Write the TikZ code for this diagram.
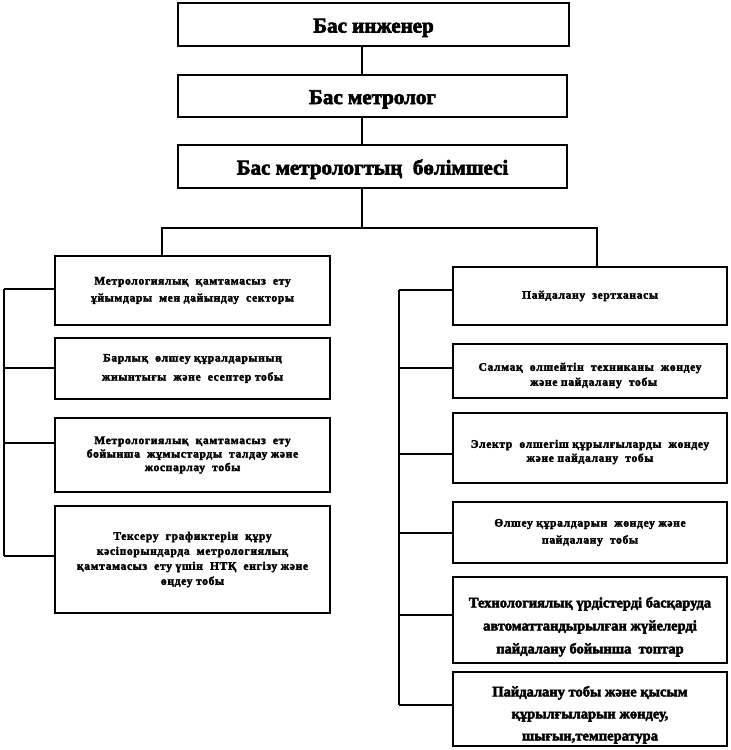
\documentclass[tikz,border=0pt]{standalone}
\usepackage{fontspec}
\setmainfont{Liberation Serif}[BoldFeatures={FakeBold=3}]
\begin{document}
\begin{tikzpicture}[x=1pt,y=-1pt,
  box/.style={draw,line width=2.4pt,rectangle,inner sep=0pt,align=center,font=\bfseries},
  big/.style={font=\bfseries\fontsize{21}{24}\selectfont,text height=20pt,text depth=4pt},
  small/.style={font=\bfseries\fontsize{11.5}{15}\selectfont\addfontfeature{LetterSpace=6}},
  mid/.style={font=\bfseries\fontsize{14.5}{23}\selectfont},
  wire/.style={line width=2.2pt}]
\useasboundingbox (0,0) rectangle (731,750);
% top
\node[box,big,minimum width=391,minimum height=43] (T1) at (373.5,24.5) {Бас инженер};
\node[box,big,minimum width=389,minimum height=42] (T2) at (372.5,96) {Бас метролог};
\node[box,big,minimum width=389,minimum height=43] (T3) at (372.5,166.5) {Бас метрологтың\ \ бөлімшесі};
% left
\node[box,small,minimum width=275,minimum height=69,font=\bfseries\fontsize{11.5}{17}\selectfont\addfontfeature{LetterSpace=6}] (L1) at (192.5,290.5) {Метрологиялық\ \ қамтамасыз\ \ ету\\ұйымдары\ \ мен дайындау\ \ секторы};
\node[box,small,minimum width=275,minimum height=61,font=\bfseries\fontsize{11.5}{19}\selectfont\addfontfeature{LetterSpace=6}] (L2) at (192.5,368.5) {Барлық\ \ өлшеу құралдарының\\жиынтығы\ \ және\ \ есептер тобы};
\node[box,small,minimum width=275,minimum height=74,font=\bfseries\fontsize{11.5}{13.5}\selectfont\addfontfeature{LetterSpace=6}] (L3) at (192.5,455) {Метрологиялық\ \ қамтамасыз\ \ ету\\бойынша\ \ жұмыстарды\ \ талдау және\\жоспарлау\ \ тобы};
\node[box,small,minimum width=275,minimum height=107] (L4) at (192.5,559.5) {Тексеру\ \ графиктерін\ \ құру\\кәсіпорындарда\ \ метрологиялық\\қамтамасыз\ \ ету үшін\ \ НТҚ\ \ енгізу және\\өңдеу тобы};
% right
\node[box,small,minimum width=274,minimum height=58] (R1) at (590,296) {Пайдалану\ \ зертханасы};
\node[box,small,minimum width=274,minimum height=54,text height=32pt] (R2) at (590,371) {Салмақ\ \ өлшейтін\ \ техниканы\ \ жөндеу\\\ \ және пайдалану\ \ тобы};
\node[box,small,minimum width=274,minimum height=70,font=\bfseries\fontsize{11.5}{14}\selectfont\addfontfeature{LetterSpace=6},text height=30pt] (R3) at (590,448) {Электр\ \ өлшегіш құрылғыларды\ \ жөндеу\\және пайдалану\ \ тобы};
\node[box,small,minimum width=274,minimum height=61,font=\bfseries\fontsize{11.5}{17}\selectfont\addfontfeature{LetterSpace=6}] (R4) at (590,532.5) {Өлшеу құралдарын\ \ жөндеу және\\пайдалану\ \ тобы};
\node[box,mid,minimum width=274,minimum height=86,text height=70pt] (R5) at (590,620) {Технологиялық үрдістерді басқаруда\\автоматтандырылған жүйелерді\\пайдалану бойынша\ \ топтар};
\node[box,mid,minimum width=274,minimum height=74,font=\bfseries\fontsize{14.5}{22}\selectfont,text height=66pt] (R6) at (590,709) {Пайдалану тобы және қысым\\құрылғыларын жөндеу,\\шығын,температура};
% top connectors
\coordinate (cx) at (362,228);
\coordinate (bl) at (162,228);
\coordinate (br) at (597,228);
\draw[wire] (T1.south -| cx) -- (T2.north -| cx);
\draw[wire] (T2.south -| cx) -- (T3.north -| cx);
\draw[wire] (T3.south -| cx) -- (cx);
\draw[wire] (L1.north -| bl) -- (bl) -- (br) -- (R1.north -| br);
% left bus
\coordinate (jl1) at (4,289);
\coordinate (jl2) at (4,368);
\coordinate (jl3) at (4,443);
\coordinate (jl4) at (4,556);
\draw[wire] (jl1) -- (jl4);
\draw[wire] (jl1) -- (jl1 -| L1.west);
\draw[wire] (jl2) -- (jl2 -| L2.west);
\draw[wire] (jl3) -- (jl3 -| L3.west);
\draw[wire] (jl4) -- (jl4 -| L4.west);
% right bus
\coordinate (jr1) at (399,290);
\coordinate (jr2) at (399,368);
\coordinate (jr3) at (399,454);
\coordinate (jr4) at (399,533);
\coordinate (jr5) at (399,615);
\coordinate (jr6) at (399,705);
\draw[wire] (jr1) -- (jr6);
\draw[wire] (jr1) -- (jr1 -| R1.west);
\draw[wire] (jr2) -- (jr2 -| R2.west);
\draw[wire] (jr3) -- (jr3 -| R3.west);
\draw[wire] (jr4) -- (jr4 -| R4.west);
\draw[wire] (jr5) -- (jr5 -| R5.west);
\draw[wire] (jr6) -- (jr6 -| R6.west);
\end{tikzpicture}
\end{document}
